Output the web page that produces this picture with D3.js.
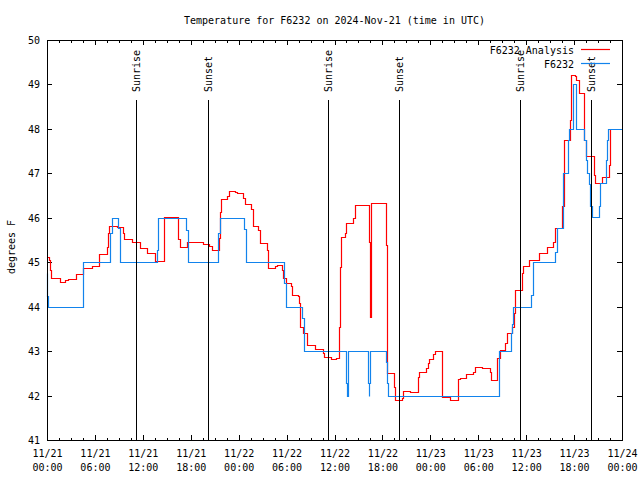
<!DOCTYPE html>
<html><head><meta charset="utf-8">
<script src="https://cdn.jsdelivr.net/npm/d3@7"></script>
<style>body{margin:0;background:#fff}svg text{font-family:"DejaVu Sans Mono",monospace;font-size:10px;fill:#000}</style>
</head><body><svg id="c" width="640" height="480"></svg>
<script>
// ---- data (hours after 2024-11-21 00:00 UTC, degrees F) ----
const analysisHours = [0,0.2,0.35,0.5,1.6,2.25,2.67,3.63,4.47,5.6,6.55,7.47,7.68,7.76,8.8,9.52,9.64,10.6,11.65,12.56,13.52,14.65,16.45,16.65,17.57,19.58,20.3,20.6,21.54,21.62,21.75,22.5,22.75,23.54,23.83,24.5,24.75,25.55,25.75,26.46,26.67,27.5,27.7,28.55,28.76,29.4,29.6,29.93,30.55,30.7,31.47,31.6,31.68,32.1,32.6,33.55,34.5,34.7,35.5,36.2,36.6,36.7,36.85,37.3,37.5,38.35,38.56,40.36,40.45,40.57,42.4,42.6,43.4,43.55,44.41,44.54,45.45,46.5,46.62,47.46,47.75,47.87,48.37,48.59,49.42,50.46,51.5,51.7,52.47,53.38,53.6,54.43,55.47,55.6,56.35,56.7,57.35,57.63,58.18,58.47,58.65,59.45,59.65,60.4,61.65,62.65,63.4,63.6,64.45,64.7,65.45,65.65,66.1,66.3,66.6,67.3,67.5,68.5,68.6,69.5,70.4,70.55,72];
const analysisTemps = [45.12,45.05,44.83,44.64,44.56,44.6,44.62,44.73,44.86,44.92,45.19,45.35,45.66,45.82,45.79,45.65,45.52,45.45,45.33,45.2,45.03,46.01,45.52,45.35,45.46,45.41,45.37,45.27,45.54,46.14,46.42,46.48,46.61,46.58,46.55,46.45,46.31,46.19,45.82,45.73,45.44,45.27,44.86,44.91,44.93,44.82,44.64,44.53,44.47,44.26,44.24,44.08,43.55,43.4,43.14,43.04,42.96,42.87,42.82,42.84,43.55,44.9,45.57,45.65,45.89,45.99,46.28,45.46,43.77,46.33,45.39,42.5,42.2,41.89,41.95,42.11,42.09,42.41,42.52,42.63,42.73,42.83,42.93,43.0,41.97,41.9,42.37,42.4,42.49,42.52,42.64,42.62,42.52,42.35,42.84,43.03,43.19,43.41,43.55,43.85,44.38,44.75,44.92,45.05,45.21,45.35,45.46,45.76,46.26,47.74,48.2,49.21,49.19,49.1,48.8,47.75,47.38,46.96,46.79,46.91,47.19,47.99,47.99];
const obsHours = [0,0.05,0.15,4.47,7.95,8.1,8.93,9.14,13.73,13.94,17.36,17.7,21.45,21.7,24.7,24.92,29.72,29.93,31.97,32.18,37.44,37.5,37.56,37.65,37.72,40.15,40.22,40.28,40.38,40.45,42.45,42.55,42.66,56.64,58.1,58.2,58.36,60.6,60.8,63.6,63.8,64.6,65.2,65.4,65.85,66.2,67.3,67.45,67.6,67.85,68.05,68.2,69.15,69.3,69.96,70.1,70.2,72];
const obsTemps = [44.75,44.25,44.0,45.0,45.65,46.0,45.76,45.0,45.27,46.0,45.73,45.0,45.65,46.0,45.74,45.0,44.53,44.0,43.74,43.0,42.76,42.28,42.0,42.28,43.0,42.76,42.28,42.0,42.28,43.0,42.76,42.28,42.0,43.0,43.4,43.62,44.0,44.26,45.0,45.24,45.76,47.0,47.75,48.0,49.0,48.0,47.75,47.3,47.0,46.77,46.27,46.02,46.27,46.78,47.3,47.75,48.0,48.0];
const sunHours = [11.18, 20.2, 35.2, 44.11, 59.25, 68.16];
const sunLabels = ["Sunrise","Sunset","Sunrise","Sunset","Sunrise","Sunset"];
const yTickValues = [41,42,43,44,45,46,47,48,49,50];
const seriesNames = ["F6232 Analysis","F6232"];
const seriesColors = ["#ff0000","#1283ec"];
const titleText = "Temperature for F6232 on 2024-Nov-21 (time in UTC)";
const yLabelText = "degrees F";

// ---- drawing ----
const t0 = Date.UTC(2024,10,21);
const toDate = h => new Date(t0 + h*3600e3);
const L=47, R=622, T=40, B=440;
const svg = d3.select("#c");
const x = d3.scaleUtc().domain([toDate(0), toDate(72)]).range([L,R]);
const y = d3.scaleLinear().domain([41,50]).range([B,T]);
const gy = d3.scaleLinear().domain([0,1]).range([B,T]); // graph coords

const major = d3.utcHour.every(6).range(toDate(0), toDate(72.01));
const minor = d3.range(0, 72.01, 1.5).filter(h => h % 6 !== 0).map(toDate);
const fmtD = d3.utcFormat("%m/%d"), fmtT = d3.utcFormat("%H:%M");

function clean(g){ g.select(".domain").remove(); g.selectAll("line").attr("stroke","#000").attr("shape-rendering","crispEdges"); }

svg.append("g").attr("transform",`translate(0,${B})`)
  .call(d3.axisBottom(x).tickValues(major).tickSizeInner(-5).tickSizeOuter(0).tickPadding(10).tickFormat(""))
  .call(clean)
  .call(g => g.selectAll(".tick").each(function(d){
     const t = d3.select(this).append("text").attr("text-anchor","middle").attr("y",17);
     t.append("tspan").attr("x",0).text(fmtD(d));
     t.append("tspan").attr("x",0).attr("dy",14).text(fmtT(d));
  }));
svg.append("g").attr("transform",`translate(0,${B})`)
  .call(d3.axisBottom(x).tickValues(minor).tickSizeInner(-2.5).tickSizeOuter(0).tickFormat("")).call(clean);
svg.append("g").attr("transform",`translate(0,${T})`)
  .call(d3.axisTop(x).tickValues(major).tickSizeInner(-5).tickSizeOuter(0).tickFormat("")).call(clean);
svg.append("g").attr("transform",`translate(0,${T})`)
  .call(d3.axisTop(x).tickValues(minor).tickSizeInner(-2.5).tickSizeOuter(0).tickFormat("")).call(clean);
svg.append("g").attr("transform",`translate(${L},0)`)
  .call(d3.axisLeft(y).tickValues(yTickValues).tickSizeInner(-5).tickSizeOuter(0).tickPadding(7).tickFormat(d3.format("d")))
  .call(clean)
  .call(g => g.selectAll("text").attr("font-size",null).attr("font-family",null).attr("dy","0.35em"));
svg.append("g").attr("transform",`translate(${R},0)`)
  .call(d3.axisRight(y).tickValues(yTickValues).tickSizeInner(-5).tickSizeOuter(0).tickFormat("")).call(clean);
svg.selectAll(".tick text").attr("font-size",null).attr("font-family",null).attr("fill","#000");

// series
const mk = (hs, vs) => hs.map((h,i) => [toDate(h), vs[i]]);
const line = d3.line().x(d => Math.round(x(d[0])) + 0.5).y(d => Math.round(y(d[1])) + 0.5).curve(d3.curveStepAfter);
const seriesData = [mk(analysisHours, analysisTemps), mk(obsHours, obsTemps)];
seriesData.forEach((s,i) => {
  svg.append("path").datum(s).attr("d", line).attr("fill","none")
    .attr("stroke", seriesColors[i]).attr("stroke-width",1.2).attr("stroke-linejoin","miter");
});

// sunrise/sunset markers
sunHours.forEach((h,i) => {
  const xx = Math.round(x(toDate(h))) + 0.5;
  svg.append("line").attr("x1",xx).attr("x2",xx).attr("y1",gy(0)).attr("y2",gy(0.85))
    .attr("stroke","#000").attr("stroke-width",1);
  svg.append("text").attr("transform",`translate(${xx},${gy(0.87)}) rotate(-90)`)
    .attr("dy","0.35em").attr("text-anchor","start").text(sunLabels[i]);
});

// border
svg.append("rect").attr("x",L+0.5).attr("y",T+0.5).attr("width",R-L).attr("height",B-T)
  .attr("fill","none").attr("stroke","#000").attr("stroke-width",1);

// legend
seriesNames.forEach((n,i) => {
  const yy = 50 + i*14;
  svg.append("text").attr("x",574).attr("y",yy).attr("dy","0.35em").attr("text-anchor","end").text(n);
  svg.append("line").attr("x1",581).attr("x2",610).attr("y1",yy-0.5).attr("y2",yy-0.5)
    .attr("stroke",seriesColors[i]).attr("stroke-width",1.2);
});

// title & y label
svg.append("text").attr("x",(L+R)/2).attr("y",20).attr("dy","0.35em").attr("text-anchor","middle").text(titleText);
svg.append("text").attr("transform",`translate(11,247) rotate(-90)`).attr("dy","0.35em").attr("text-anchor","middle").text(yLabelText);
</script></body></html>
